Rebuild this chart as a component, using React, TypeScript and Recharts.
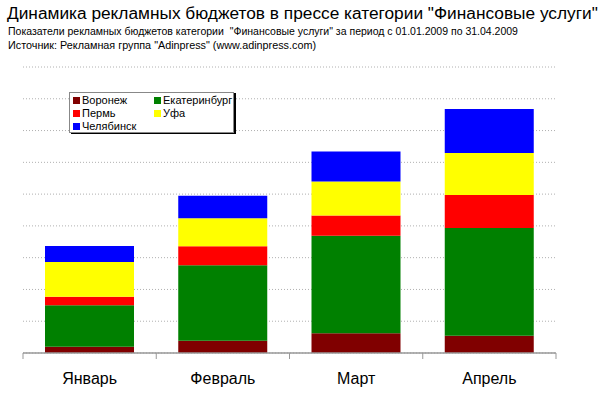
import { BarChart, Bar, XAxis, YAxis, CartesianGrid } from "recharts";

const months = ["Январь", "Февраль", "Март", "Апрель"];

// values in conditional units (1 gridline = 1000)
const voronezh = [200, 385, 625, 540];
const ekaterinburg = [1300, 2375, 3065, 3390];
const perm = [270, 600, 640, 1040];
const ufa = [1090, 880, 1070, 1320];
const chelyabinsk = [510, 710, 940, 1390];

const yTicks = [0, 1000, 2000, 3000, 4000, 5000, 6000, 7000, 8000, 9000];

const series = [
  { key: "voronezh", name: "Воронеж", color: "#800000" },
  { key: "ekaterinburg", name: "Екатеринбург", color: "#008000" },
  { key: "perm", name: "Пермь", color: "#ff0000" },
  { key: "ufa", name: "Уфа", color: "#ffff00" },
  { key: "chelyabinsk", name: "Челябинск", color: "#0000ff" },
];

const data = months.map((m, i) => ({
  month: m,
  voronezh: voronezh[i],
  ekaterinburg: ekaterinburg[i],
  perm: perm[i],
  ufa: ufa[i],
  chelyabinsk: chelyabinsk[i],
}));

const FONT = '"Liberation Sans", Arial, sans-serif';
const BAND = 533 / months.length;

const MonthTick = ({ x, y, payload, index }: any) => (
  <g>
    <line x1={x - BAND / 2} y1={y - 8} x2={x - BAND / 2} y2={y - 2} stroke="#999" />
    {index === months.length - 1 && (
      <line x1={x + BAND / 2} y1={y - 8} x2={x + BAND / 2} y2={y - 2} stroke="#999" />
    )}
    <text x={x} y={y + 23} textAnchor="middle" fontSize={16} fill="#000" fontFamily={FONT}>
      {payload.value}
    </text>
  </g>
);

const LegendBox = () => (
  <div
    style={{
      position: "absolute",
      left: 69,
      top: 92,
      width: 163,
      height: 39,
      border: "1px solid #888",
      boxShadow: "2px 1px 0 #000",
      background: "#fff",
      fontFamily: FONT,
      fontSize: 11,
      color: "#000",
    }}
  >
    {series.map((s, i) => (
      <div
        key={s.key}
        style={{
          position: "absolute",
          left: i % 2 === 0 ? 3 : 84,
          top: 1 + Math.floor(i / 2) * 13,
          whiteSpace: "nowrap",
          lineHeight: "13px",
        }}
      >
        <span
          style={{
            display: "inline-block",
            width: 7,
            height: 7,
            background: s.color,
            marginRight: 2,
          }}
        />
        {s.name}
      </div>
    ))}
  </div>
);

export default function App() {
  return (
    <div
      style={{
        position: "absolute",
        left: 0,
        top: 0,
        width: 600,
        height: 394,
        background: "#fff",
        fontFamily: FONT,
        overflow: "hidden",
      }}
    >
      <div style={{ position: "absolute", left: 7, top: 3, fontSize: 17.3, whiteSpace: "nowrap" }}>
        Динамика рекламных бюджетов в прессе категории "Финансовые услуги"
      </div>
      <div style={{ position: "absolute", left: 8, top: 25, fontSize: 10.5, whiteSpace: "pre" }}>
        Показатели рекламных бюджетов категории  "Финансовые услуги" за период с 01.01.2009 по 31.04.2009
      </div>
      <div style={{ position: "absolute", left: 8, top: 39, fontSize: 10.8, whiteSpace: "pre" }}>
        Источник: Рекламная группа "Adinpress" (www.adinpress.com)
      </div>
      <div style={{ position: "absolute", left: 0, top: 0 }}>
        <BarChart
          width={600}
          height={394}
          data={data}
          margin={{ top: 67, right: 44, bottom: 11, left: 23 }}
        >
          <CartesianGrid
            vertical={false}
            stroke="#b0b0b0"
            strokeDasharray="1 2"
          />
          <XAxis
            dataKey="month"
            height={30}
            axisLine={{ stroke: "#999", strokeWidth: 1.5 }}
            tickLine={false}
            tick={<MonthTick />}
            interval={0}
          />
          <YAxis hide domain={[0, 9000]} ticks={yTicks} />
          {series.map((s) => (
            <Bar
              key={s.key}
              dataKey={s.key}
              name={s.name}
              stackId="a"
              fill={s.color}
              barSize={89}
              isAnimationActive={false}
            />
          ))}
        </BarChart>
      </div>
      <LegendBox />
    </div>
  );
}
